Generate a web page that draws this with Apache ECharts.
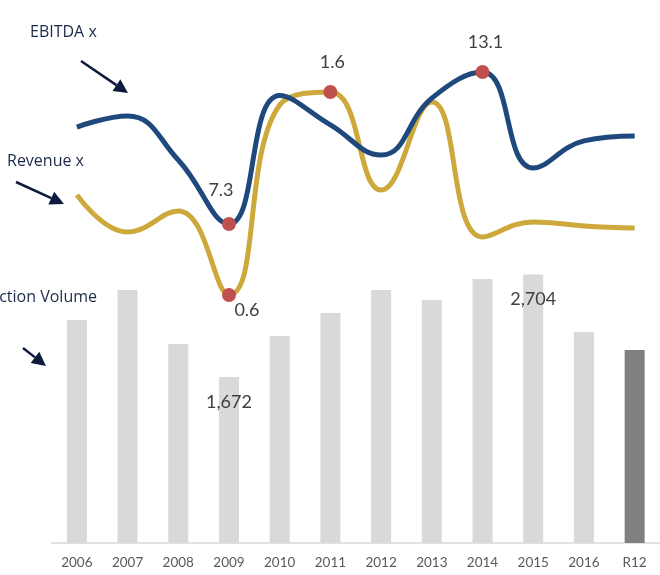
<!DOCTYPE html>
<html>
<head>
<meta charset="utf-8">
<script src="https://cdn.jsdelivr.net/npm/echarts@6/dist/echarts.min.js"></script>
<style>
  html, body { margin: 0; padding: 0; background: #fff; }
  #chart { width: 660px; height: 575px; }
</style>
</head>
<body>
<div id="chart"></div>
<script>
const categories = ['2006', '2007', '2008', '2009', '2010', '2011', '2012', '2013', '2014', '2015', '2016', 'R12']
const volume = [2246, 2548, 2004, 1672, 2085, 2316, 2548, 2447, 2659, 2704, 2125, 1944]
const ebitda = [11.0, 11.42, 9.74, 7.3, 12.2, 11.08, 9.93, 12.1, 13.1, 9.44, 10.47, 10.66]
const revenue = [1.093, 0.91, 1.014, 0.6, 1.536, 1.6, 1.117, 1.551, 0.886, 0.96, 0.94, 0.93]

// which points get a red dot / label (value = label offset)
const volumeLabelled = [3, 9]
const ebitdaLabelled = { 3: [-8, -13], 8: [3, -9] }
const revenueLabelled = { 3: [18, -6], 5: [2, -9] }

const chart = echarts.init(document.getElementById('chart'))

const fmt = v => v.toLocaleString('en-US')

const lineData = (values, marked, pos) => values.map((v, i) => {
  if (!(i in marked)) return { value: v, symbol: 'none' }
  return {
    value: v,
    symbol: 'circle',
    symbolSize: 14,
    itemStyle: { color: '#C0504D' },
    label: {
      show: true,
      position: pos[i] || 'top',
      offset: marked[i],
      formatter: v.toFixed(1),
      fontSize: 18,
      color: '#404040',
      fontFamily: 'Lato'
    }
  }
})

// arrow helper for the annotation pointers
const arrow = (x1, y1, x2, y2) => {
  const a = Math.atan2(y2 - y1, x2 - x1)
  const len = 14, half = 7
  const bx = x2 - len * Math.cos(a), by = y2 - len * Math.sin(a)
  const px = -Math.sin(a) * half, py = Math.cos(a) * half
  return {
    type: 'group',
    children: [
      { type: 'line', shape: { x1, y1, x2: bx, y2: by }, style: { stroke: '#0f1b3d', lineWidth: 2.5 } },
      { type: 'polygon', shape: { points: [[x2, y2], [bx + px, by + py], [bx - px, by - py]] }, style: { fill: '#0f1b3d' } }
    ]
  }
}

const noteText = (text, x, y, align) => ({
  type: 'text',
  x, y,
  style: {
    text,
    fill: '#1b2a4a',
    font: '16px "Open Sans"',
    align: align || 'left',
    verticalAlign: 'middle'
  }
})

const option = {
  animation: false,
  grid: { left: 51.5, width: 612, top: 40, height: 503 },
  xAxis: {
    type: 'category',
    data: categories,
    axisLine: { lineStyle: { color: '#D9D9D9', width: 1.5 } },
    axisTick: { show: false },
    axisLabel: { color: '#595959', fontSize: 13.5, margin: 13, fontFamily: 'Lato' }
  },
  yAxis: [
    { type: 'value', min: 0, max: 5066, show: false },
    { type: 'value', min: -4.87, max: 14.32, show: false },
    { type: 'value', min: -0.622, max: 1.856, show: false }
  ],
  series: [
    {
      type: 'bar',
      yAxisIndex: 0,
      barWidth: 20,
      data: volume.map((v, i) => ({
        value: v,
        itemStyle: { color: i === volume.length - 1 ? '#808080' : '#D9D9D9' },
        label: {
          show: volumeLabelled.includes(i),
          position: 'insideTop',
          distance: 16,
          formatter: fmt(v),
          fontSize: 18,
          color: '#404040',
          fontFamily: 'Lato'
        }
      }))
    },
    {
      type: 'line',
      name: 'Revenue x',
      yAxisIndex: 2,
      smooth: 0.45,
      lineStyle: { color: '#CDA93B', width: 5 },
      itemStyle: { color: '#CDA93B' },
      data: lineData(revenue, revenueLabelled, { 3: 'bottom' })
    },
    {
      type: 'line',
      name: 'EBITDA x',
      yAxisIndex: 1,
      smooth: 0.45,
      lineStyle: { color: '#1F497D', width: 5 },
      itemStyle: { color: '#1F497D' },
      data: lineData(ebitda, ebitdaLabelled, {})
    }
  ],
  graphic: [
    noteText('EBITDA x', 30, 32),
    noteText('Revenue x', 7, 161),
    noteText('Transaction Volume', 97, 297, 'right'),
    arrow(81, 61, 128, 93),
    arrow(16, 182, 64, 204),
    arrow(23, 348, 46, 366)
  ]
}

chart.setOption(option)
</script>
</body>
</html>
